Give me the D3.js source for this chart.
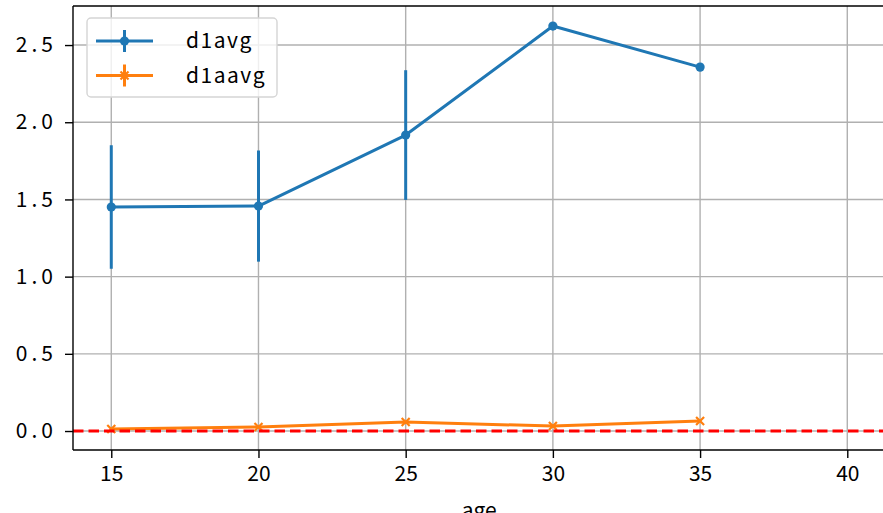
<!DOCTYPE html>
<html><head><meta charset="utf-8">
<script src="https://cdn.jsdelivr.net/npm/d3@7"></script>
<style>body{margin:0;background:#fff;} svg{display:block;}</style>
</head><body>
<script>
const ages = [15, 20, 25, 30, 35];
const d1avg = [1.451, 1.457, 1.917, 2.623, 2.357];
const d1avgErr = [0.40, 0.36, 0.42, null, null];
const d1aavg = [0.013, 0.026, 0.058, 0.032, 0.065];
const d1aavgErr = [0.006, 0.006, 0.006, 0.004, 0.006];
const xTicks = [15, 20, 25, 30, 35, 40];
const yTicks = [0.0, 0.5, 1.0, 1.5, 2.0, 2.5];
const seriesNames = ["d1avg", "d1aavg"];
const colors = ["#1f77b4", "#ff7f0e"];

(function () {
const W = 883, H = 513;
const svg = d3.select("body").append("svg").attr("width", W).attr("height", H);
const pL = 73, pR = 915, pT = 6, pB = 450;
const x = d3.scaleLinear().domain([13.7, 42.3]).range([pL, pR]);
const y = d3.scaleLinear().domain([-0.1229, 2.7529]).range([pB, pT]);
const font = "'Noto Sans CJK JP', 'Noto Sans', sans-serif";
const fs = "21px";

// grid
const g = svg.append("g");
g.selectAll(".gx").data(xTicks).join("line")
  .attr("x1", d => x(d)).attr("x2", d => x(d)).attr("y1", pT).attr("y2", pB)
  .attr("stroke", "#b0b0b0").attr("stroke-width", 1.4);
g.selectAll(".gy").data(yTicks).join("line")
  .attr("y1", d => y(d)).attr("y2", d => y(d)).attr("x1", pL).attr("x2", pR)
  .attr("stroke", "#b0b0b0").attr("stroke-width", 1.4);

// series
const line = d3.line().x(d => x(d[0])).y(d => y(d[1]));
function drawSeries(vals, errs, color, marker) {
  const pts = ages.map((a, i) => [a, vals[i], errs[i]]);
  svg.append("path").datum(pts).attr("d", line).attr("fill", "none")
    .attr("stroke", color).attr("stroke-width", 3).attr("stroke-linejoin", "round");
  svg.append("g").selectAll("line").data(pts.filter(p => p[2] != null)).join("line")
    .attr("x1", p => x(p[0])).attr("x2", p => x(p[0]))
    .attr("y1", p => y(p[1] - p[2])).attr("y2", p => y(p[1] + p[2]))
    .attr("stroke", color).attr("stroke-width", 3);
  if (marker === "o") {
    svg.append("g").selectAll("circle").data(pts).join("circle")
      .attr("cx", p => x(p[0])).attr("cy", p => y(p[1])).attr("r", 4.6).attr("fill", color);
  } else {
    svg.append("g").selectAll("path").data(pts).join("path")
      .attr("d", p => { const cx = x(p[0]), cy = y(p[1]), s = 4;
        return `M${cx-s},${cy-s}L${cx+s},${cy+s}M${cx-s},${cy+s}L${cx+s},${cy-s}`; })
      .attr("stroke", color).attr("stroke-width", 2.2);
  }
}
drawSeries(d1avg, d1avgErr, colors[0], "o");
drawSeries(d1aavg, d1aavgErr, colors[1], "x");

// red dashed zero line
svg.append("line").attr("x1", pL).attr("x2", pR).attr("y1", y(0)).attr("y2", y(0))
  .attr("stroke", "red").attr("stroke-width", 3).attr("stroke-dasharray", "10.5,5");

// spines
svg.append("line").attr("x1", pL).attr("x2", pL).attr("y1", pT).attr("y2", pB).attr("stroke", "#000").attr("stroke-width", 1.4);
svg.append("line").attr("x1", pL).attr("x2", pR).attr("y1", pB).attr("y2", pB).attr("stroke", "#000").attr("stroke-width", 1.4);
svg.append("line").attr("x1", pL).attr("x2", pR).attr("y1", pT).attr("y2", pT).attr("stroke", "#000").attr("stroke-width", 1.4);

// axes
const xAxis = d3.axisBottom(x).tickValues(xTicks).tickSize(8).tickPadding(8).tickFormat(d3.format("d"));
const xg = svg.append("g").attr("transform", `translate(0,${pB})`).call(xAxis);
const yAxis = d3.axisLeft(y).tickValues(yTicks).tickSize(8).tickPadding(8).tickFormat(d3.format(".1f"));
const yg = svg.append("g").attr("transform", `translate(${pL},0)`).call(yAxis);
[xg, yg].forEach(a => {
  a.select(".domain").remove();
  a.selectAll(".tick line").attr("stroke", "#000").attr("stroke-width", 1.4);
  a.selectAll(".tick text").attr("fill", "#000").style("font-family", font).style("font-size", fs);
});
yg.selectAll(".tick text").style("letter-spacing", "4px");

svg.append("text").attr("x", x(27.5)).attr("y", 518).attr("text-anchor", "middle")
  .style("font-family", font).style("font-size", fs).text("age");

// legend
const lg = svg.append("g");
lg.append("rect").attr("x", 87).attr("y", 18).attr("width", 190).attr("height", 79).attr("rx", 4)
  .attr("fill", "rgba(255,255,255,0.8)").attr("stroke", "#d5d5d5").attr("stroke-width", 1.4);
seriesNames.forEach((n, i) => {
  const cy = 41 + i * 34.5, c = colors[i];
  lg.append("line").attr("x1", 96).attr("x2", 153).attr("y1", cy).attr("y2", cy).attr("stroke", c).attr("stroke-width", 3);
  lg.append("line").attr("x1", 124.5).attr("x2", 124.5).attr("y1", cy - 11).attr("y2", cy + 11).attr("stroke", c).attr("stroke-width", 3);
  if (i === 0) lg.append("circle").attr("cx", 124.5).attr("cy", cy).attr("r", 4.6).attr("fill", c);
  else lg.append("path").attr("d", `M120.5,${cy-4}L128.5,${cy+4}M120.5,${cy+4}L128.5,${cy-4}`).attr("stroke", c).attr("stroke-width", 2.2);
  lg.append("text").attr("x", 186).attr("y", cy + 7).style("font-family", font).style("font-size", fs)
    .style("letter-spacing", "1.5px").text(n);
});
})();
</script>
</body></html>
